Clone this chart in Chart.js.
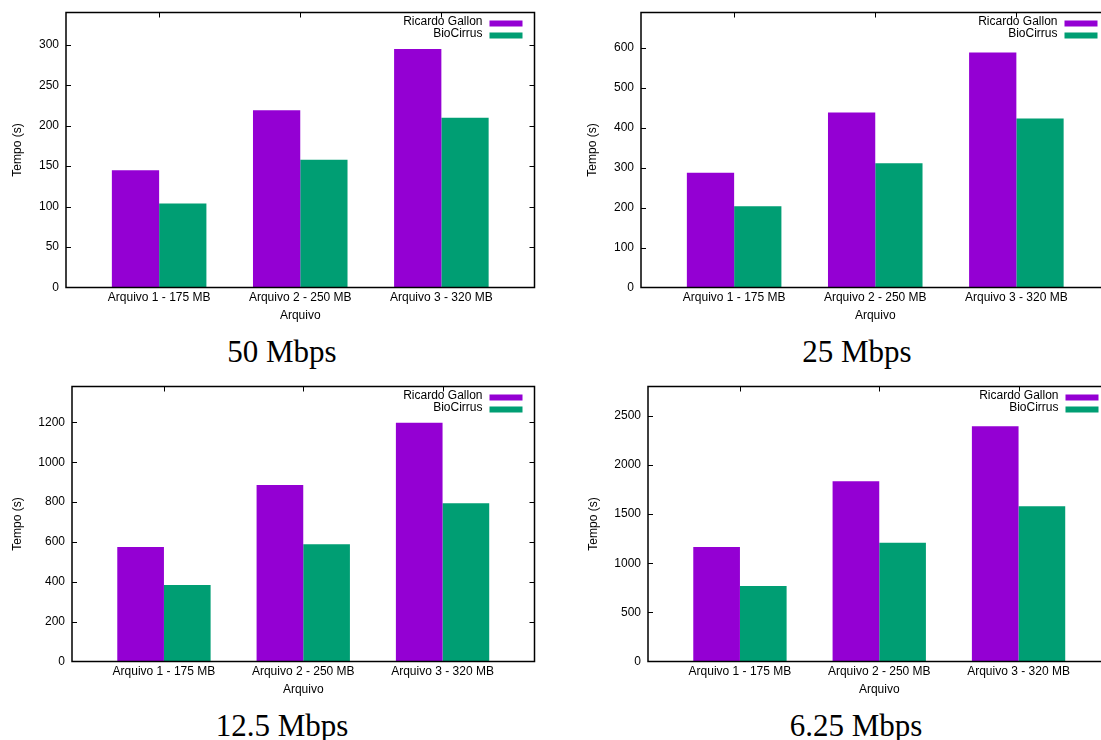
<!DOCTYPE html>
<html>
<head>
<meta charset="utf-8">
<title>Tempo de transferência</title>
<script src="https://cdn.jsdelivr.net/npm/chart.js@4/dist/chart.umd.min.js"></script>
<style>
    html, body { margin: 0; padding: 0; background: #fff; }
    body { position: relative; width: 1101px; height: 740px; overflow: hidden; }
    canvas { position: absolute; }
    .caption {
        position: absolute; width: 300px; text-align: center;
        font-family: 'Liberation Serif', serif; font-size: 31px; line-height: 30px; color: #000;
    }
</style>
</head>
<body>
<canvas id="c50" width="550" height="330" style="left:0px;top:0px"></canvas>
<canvas id="c25" width="550" height="330" style="left:575px;top:0px"></canvas>
<canvas id="c125" width="550" height="330" style="left:0px;top:374px"></canvas>
<canvas id="c625" width="550" height="330" style="left:576px;top:374px"></canvas>
<div class="caption" style="left:132px;top:337px">50 Mbps</div>
<div class="caption" style="left:707px;top:337px">25 Mbps</div>
<div class="caption" style="left:132px;top:711px">12.5 Mbps</div>
<div class="caption" style="left:706px;top:711px">6.25 Mbps</div>
<script>
const categories = ['Arquivo 1 - 175 MB', 'Arquivo 2 - 250 MB', 'Arquivo 3 - 320 MB'];
const seriesNames = ['Ricardo Gallon', 'BioCirrus'];

// tempos (s)
const gallon50 = [145, 219, 295];
const bio50 = [104, 158, 210];
const gallon25 = [287, 438, 588];
const bio25 = [203, 311, 423];
const gallon125 = [575, 886, 1198];
const bio125 = [384, 588, 794];
const gallon625 = [1165, 1836, 2395];
const bio625 = [769, 1209, 1582];

const ticks50 = [0, 50, 100, 150, 200, 250, 300];
const ticks25 = [0, 100, 200, 300, 400, 500, 600];
const ticks125 = [0, 200, 400, 600, 800, 1000, 1200];
const ticks625 = [0, 500, 1000, 1500, 2000, 2500];

const max50 = 340;
const max25 = 688;
const max125 = 1380;
const max625 = 2800;

const PURPLE = '#9400d3';
const GREEN = '#009e73';

Chart.defaults.font.family = "'Liberation Sans', Arial, sans-serif";
Chart.defaults.font.size = 12;
Chart.defaults.color = '#000';

// moldura com marcas para dentro, estilo gnuplot
const framePlugin = {
    id: 'frame',
    afterDraw(chart) {
        const { ctx, chartArea: a, scales: { x, y } } = chart;
        ctx.save();

        // legenda dentro do gráfico, texto à esquerda da amostra
        ctx.font = "12px 'Liberation Sans', Arial, sans-serif";
        ctx.textAlign = 'right';
        ctx.textBaseline = 'middle';
        chart.data.datasets.forEach((ds, i) => {
            const rowY = a.top + 8 + i * 12;
            ctx.fillStyle = ds.backgroundColor;
            ctx.fillRect(a.right - 45, rowY, 33, 6);
            ctx.fillStyle = '#000';
            ctx.fillText(ds.label, a.right - 52, rowY + 1);
        });

        ctx.strokeStyle = '#000';
        ctx.lineWidth = 1;
        ctx.beginPath();
        y.ticks.forEach(t => {
            if (t.value === 0) return;
            const py = Math.round(y.getPixelForValue(t.value)) + 0.5;
            ctx.moveTo(a.left, py);
            ctx.lineTo(a.left + 5, py);
            ctx.moveTo(a.right - 5, py);
            ctx.lineTo(a.right, py);
        });
        x.ticks.forEach(t => {
            const px = Math.round(x.getPixelForValue(t.value)) + 0.5;
            ctx.moveTo(px, a.top);
            ctx.lineTo(px, a.top + 5);
        });
        ctx.stroke();

        ctx.lineWidth = 1.5;
        ctx.strokeRect(a.left, a.top, a.right - a.left, a.bottom - a.top);
        ctx.restore();
    }
};

function makeChart(id, gallon, bio, yTicks, yMax, axisWidth) {
    const ctx = document.getElementById(id).getContext('2d');
    return new Chart(ctx, {
        type: 'bar',
        data: {
            datasets: [{
                label: seriesNames[0],
                data: categories.map((c, i) => ({ x: i, y: gallon[i] })),
                backgroundColor: PURPLE
            }, {
                label: seriesNames[1],
                data: categories.map((c, i) => ({ x: i, y: bio[i] })),
                backgroundColor: GREEN
            }]
        },
        options: {
            responsive: false,
            animation: false,
            layout: { padding: { top: 12.5, right: 15.5, left: 0, bottom: 0 } },
            datasets: { bar: { categoryPercentage: 0.67, barPercentage: 1 } },
            plugins: {
                legend: { display: false },
                tooltip: { enabled: false }
            },
            scales: {
                x: {
                    type: 'linear',
                    min: -0.66,
                    max: 2.66,
                    offset: false,
                    grid: { display: false, drawTicks: false },
                    border: { display: false },
                    afterBuildTicks: s => { s.ticks = categories.map((c, i) => ({ value: i })); },
                    afterFit: s => { s.height = 42.5; s.paddingLeft = 0; s.paddingRight = 0; },
                    ticks: {
                        padding: 3,
                        maxRotation: 0,
                        autoSkip: false,
                        callback: v => categories[v]
                    },
                    title: { display: true, text: 'Arquivo', padding: { top: 0, bottom: 7 } }
                },
                y: {
                    min: 0,
                    max: yMax,
                    grid: { display: false, drawTicks: false },
                    border: { display: false },
                    afterBuildTicks: s => { s.ticks = yTicks.map(v => ({ value: v })); },
                    afterFit: s => { s.width = axisWidth; s.paddingTop = 0; s.paddingBottom = 0; },
                    ticks: { padding: 7, autoSkip: false, callback: v => String(v) },
                    title: { display: true, text: 'Tempo (s)', padding: { top: 10, bottom: 0 } }
                }
            }
        },
        plugins: [framePlugin]
    });
}

document.addEventListener('DOMContentLoaded', function () {
    makeChart('c50', gallon50, bio50, ticks50, max50, 66);
    makeChart('c25', gallon25, bio25, ticks25, max25, 66);
    makeChart('c125', gallon125, bio125, ticks125, max125, 72);
    makeChart('c625', gallon625, bio625, ticks625, max625, 72);
});
</script>
</body>
</html>
